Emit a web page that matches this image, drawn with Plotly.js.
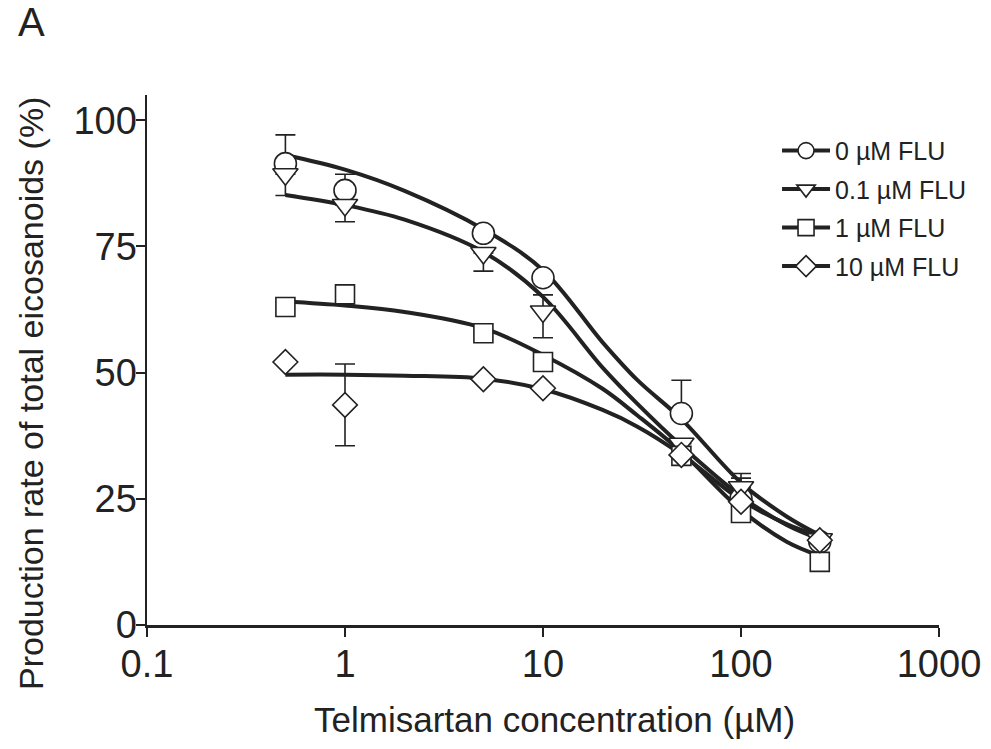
<!DOCTYPE html>
<html>
<head>
<meta charset="utf-8">
<script src="https://cdn.plot.ly/plotly-3.0.1.min.js"></script>
<style>html,body{margin:0;padding:0;background:#fff;}#chart{width:991px;height:749px;}</style>
</head>
<body>
<div id="chart"></div>
<script>
// Telmisartan concentrations (µM) of measured points
const conc = [0.5, 1, 5, 10, 50, 100, 250];
// Mean production rate (%) per FLU concentration
const flu0 = [91.4, 86.1, 77.6, 68.8, 41.9, 25.0, 16.5];
const flu01 = [89.3, 83.2, 73.7, 62.1, 35.9, 27.3, 17.0];
const flu1 = [63.0, 65.5, 57.8, 52.1, 33.5, 22.2, 12.5];
const flu10 = [52.1, 43.6, 48.7, 46.9, 33.7, 24.4, 16.8];
// Error bars (up / down), null = none drawn
const flu0Up = [5.7, 3.2, null, null, 6.6, 5.0, null];
const flu0Dn = [0, 0, null, null, 0, 0, null];
const flu01Up = [0, 0, 0, 3.3, null, 1.8, null];
const flu01Dn = [4.2, 3.3, 3.6, 5.2, null, 0, null];
const flu1Up = [null, 1.2, null, null, null, null, null];
const flu1Dn = [null, 0, null, null, null, null, null];
const flu10Up = [null, 8.1, null, null, null, null, null];
const flu10Dn = [null, 8.1, null, null, null, null, null];
// Fitted curves, values
const fitConc = [0.5, 1, 2, 5, 10, 20, 30, 50, 100, 170, 250];
const fit0 = [93.1, 90.2, 86.0, 78.4, 70.3, 56.0, 48.5, 40.8, 28.2, 21.5, 17.8];
const fit01 = [85.2, 83.2, 80.3, 73.9, 65.0, 51.0, 43.8, 35.5, 25.5, 19.8, 17.0];
const fit1 = [64.1, 63.3, 62.0, 58.8, 53.5, 46.8, 41.5, 34.3, 22.8, 16.5, 13.7];
const fit10 = [49.6, 49.6, 49.4, 48.8, 46.7, 42.6, 39.3, 33.8, 24.8, 20.0, 17.6];
const seriesNames = ['0 µM FLU', '0.1 µM FLU', '1 µM FLU', '10 µM FLU'];
const yTicks = [0, 25, 50, 75, 100];
const xTicks = [0.1, 1, 10, 100, 1000];
const xTickText = ['0.1', '1', '10', '100', '1000'];

const INK = '#222222';
const FONT = 'Liberation Sans, Arial, Helvetica, sans-serif';
const symbols = ['circle', 'triangle-down', 'square', 'diamond'];
const sizes = [22, 22, 19, 19];
const capW = [10, 10, 9, 10];
const means = [flu0, flu01, flu1, flu10];
const ups = [flu0Up, flu01Up, flu1Up, flu10Up];
const dns = [flu0Dn, flu01Dn, flu1Dn, flu10Dn];
const fits = [fit0, fit01, fit1, fit10];

const traces = [];
// fitted curves first
fits.forEach((f, i) => {
  traces.push({
    x: fitConc, y: f, type: 'scatter', mode: 'lines',
    line: {color: INK, width: 4, shape: 'spline', smoothing: 1},
    showlegend: false, hoverinfo: 'skip', legendgroup: 'g' + i
  });
});
// data points with error bars
means.forEach((m, i) => {
  traces.push({
    x: conc, y: m, type: 'scatter', mode: 'markers',
    marker: {symbol: symbols[i], size: sizes[i], color: '#ffffff', line: {color: INK, width: 1.6}},
    error_y: {type: 'data', symmetric: false, array: ups[i], arrayminus: dns[i],
              color: INK, thickness: 1.6, width: capW[i]},
    showlegend: false, legendgroup: 'g' + i, name: seriesNames[i]
  });
});
// legend entries (line + marker)
seriesNames.forEach((n, i) => {
  traces.push({
    x: [null], y: [null], type: 'scatter', mode: 'lines+markers', name: n,
    line: {color: INK, width: 4},
    marker: {symbol: symbols[i], size: 16, color: '#ffffff', line: {color: INK, width: 1.6}},
    legendgroup: 'g' + i, showlegend: true
  });
});

const layout = {
  width: 991, height: 749,
  margin: {l: 147, r: 52, t: 95, b: 124},
  paper_bgcolor: '#ffffff', plot_bgcolor: '#ffffff',
  font: {family: FONT, color: INK},
  showlegend: true,
  legend: {x: 0.7955, xanchor: 'left', y: 0.938, yanchor: 'top', itemwidth: 48,
           font: {family: FONT, size: 25, color: INK}, tracegroupgap: 3,
           bgcolor: 'rgba(0,0,0,0)'},
  xaxis: {type: 'log', range: [-1, 3], tickvals: xTicks, ticktext: xTickText,
          showline: true, linecolor: INK, linewidth: 2.5, ticks: 'outside', ticklen: 9,
          tickwidth: 2, tickcolor: INK, showgrid: false, zeroline: false, ticklabelstandoff: -5,
          tickfont: {family: FONT, size: 38, color: INK}},
  yaxis: {range: [0, 105], tickvals: yTicks, showline: true, linecolor: INK, linewidth: 2.5,
          ticks: 'outside', ticklen: 9, tickwidth: 2, tickcolor: INK, showgrid: false,
          zeroline: false, ticklabelstandoff: -9, tickfont: {family: FONT, size: 38, color: INK}},
  annotations: [
    {text: 'Telmisartan concentration (µM)', xref: 'paper', yref: 'paper',
     x: 0.515, y: -0.179, xanchor: 'center', yanchor: 'middle', showarrow: false,
     font: {family: FONT, size: 35, color: INK}},
    {text: 'Production rate of total eicosanoids (%)', xref: 'paper', yref: 'paper',
     x: -0.1465, y: 0.4377, xanchor: 'center', yanchor: 'middle', textangle: -90, showarrow: false,
     font: {family: FONT, size: 34, color: INK}},
    {text: 'A', xref: 'paper', yref: 'paper', x: -0.146, y: 1.137,
     xanchor: 'center', yanchor: 'middle', showarrow: false,
     font: {family: FONT, size: 40, color: INK}}
  ]
};

Plotly.newPlot('chart', traces, layout, {displayModeBar: false, staticPlot: true});
</script>
</body>
</html>
